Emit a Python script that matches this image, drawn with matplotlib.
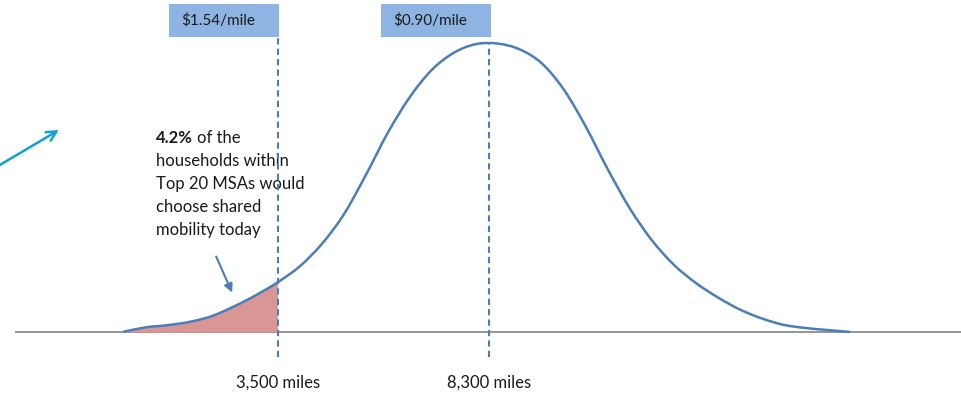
import numpy as np
import matplotlib
matplotlib.use("Agg")
import matplotlib.pyplot as plt
from matplotlib.path import Path
from matplotlib.patches import PathPatch, Rectangle

plt.rcParams['font.family'] = ['Lato', 'DejaVu Sans']

# annual miles driven per household vs. relative share of households
miles = list(range(0, 16501, 500))
share = [0.003, 0.018, 0.0255, 0.037, 0.057, 0.090, 0.129, 0.174, 0.229, 0.306,
         0.408, 0.544, 0.690, 0.813, 0.907, 0.966, 0.996, 0.998, 0.978, 0.930,
         0.840, 0.712, 0.565, 0.430, 0.320, 0.235, 0.172, 0.122, 0.080, 0.049,
         0.0266, 0.0155, 0.0086, 0.002]

breakeven_miles = 3500
mean_miles = 8300
price_labels = ["$1.54/mile", "$0.90/mile"]
mile_labels = ["3,500 miles", "8,300 miles"]
pct_shared = "4.2%"

line_blue = "#4A7EBB"
box_blue = "#8DB4E2"
shade = "#D99694"
txt = "#1a1a1a"


def smooth_verts(x, y):
    # Catmull-Rom through the points, expressed as cubic Bezier segments
    pts = np.column_stack([x, y]).astype(float)
    n = len(pts)
    verts = [pts[0]]
    codes = [Path.MOVETO]
    for i in range(n - 1):
        p0 = pts[max(i - 1, 0)]
        p1 = pts[i]
        p2 = pts[i + 1]
        p3 = pts[min(i + 2, n - 1)]
        verts += [p1 + (p2 - p0) / 6, p2 - (p3 - p1) / 6, p2]
        codes += [Path.CURVE4] * 3
    return verts, codes


fig = plt.figure(figsize=(9.61, 3.95), dpi=100)
ax = fig.add_axes([0, 0, 1, 1])
ax.set_xlim(-2823, 19040)
ax.set_ylim(-0.2159, 1.1485)
ax.axis("off")

# baseline
ax.hlines(0, -2480, 19040, color="#8C8C8C", lw=1.3, zorder=1)

# shaded tail left of the break-even mileage
k = miles.index(breakeven_miles) + 1
v, c = smooth_verts(miles[:k], share[:k])
v += [(breakeven_miles, 0), (miles[0], 0), (miles[0], 0)]
c += [Path.LINETO, Path.LINETO, Path.CLOSEPOLY]
ax.add_patch(PathPatch(Path(v, c), facecolor=shade, edgecolor="none", zorder=2))

# distribution curve
v, c = smooth_verts(miles, share)
ax.add_patch(PathPatch(Path(v, c), facecolor="none", edgecolor=line_blue,
                       lw=1.8, capstyle="round", zorder=3))

# dashed markers
ax.vlines(breakeven_miles, -0.085, 1.021, color=line_blue, lw=1.5,
          linestyles=(0, (3, 2)), zorder=4)
ax.vlines(mean_miles, -0.085, max(share), color=line_blue, lw=1.5,
          linestyles=(0, (3, 2)), zorder=4)

# price boxes above each marker
for xm, lab in zip([breakeven_miles + 20, mean_miles + 50], price_labels):
    ax.add_patch(Rectangle((xm - 2500, 1.0207), 2500, 0.114,
                           facecolor=box_blue, edgecolor="none", zorder=5))
    ax.text(xm - 1380, 1.078, lab, ha="center", va="center",
            fontsize=11, color=txt, zorder=6)

# mileage labels under the markers
for xm, lab in zip([breakeven_miles, mean_miles], mile_labels):
    ax.text(xm, -0.174, lab, ha="center", va="center", fontsize=12, color=txt)

# annotation
x0 = 720
t = ax.text(x0, 0.672, pct_shared, fontweight="bold", ha="left", va="center",
            fontsize=12, color=txt)
ax.annotate("of the", xy=(1, 0.5), xycoords=t, xytext=(3, 0),
            textcoords="offset points", ha="left", va="center",
            fontsize=12, color=txt)
lines = ["households within", "Top 20 MSAs would", "choose shared", "mobility today"]
for i, s in enumerate(lines):
    ax.text(x0, 0.672 - 0.0794 * (i + 1), s, ha="left", va="center",
            fontsize=12, color=txt)

ax.annotate("", xy=(2458, 0.138), xytext=(2095, 0.2625),
            arrowprops=dict(arrowstyle="-|>,head_length=0.5,head_width=0.25",
                            color=line_blue, lw=1.5, shrinkA=0, shrinkB=0))

# teal pointer coming in from the left
ax.annotate("", xy=(-1481, 0.6995), xytext=(-2900, 0.572),
            arrowprops=dict(arrowstyle="->,head_length=0.7,head_width=0.35",
                            color="#12A0D2", lw=1.8, shrinkA=0, shrinkB=0))

fig.savefig("out.png", dpi=100)
